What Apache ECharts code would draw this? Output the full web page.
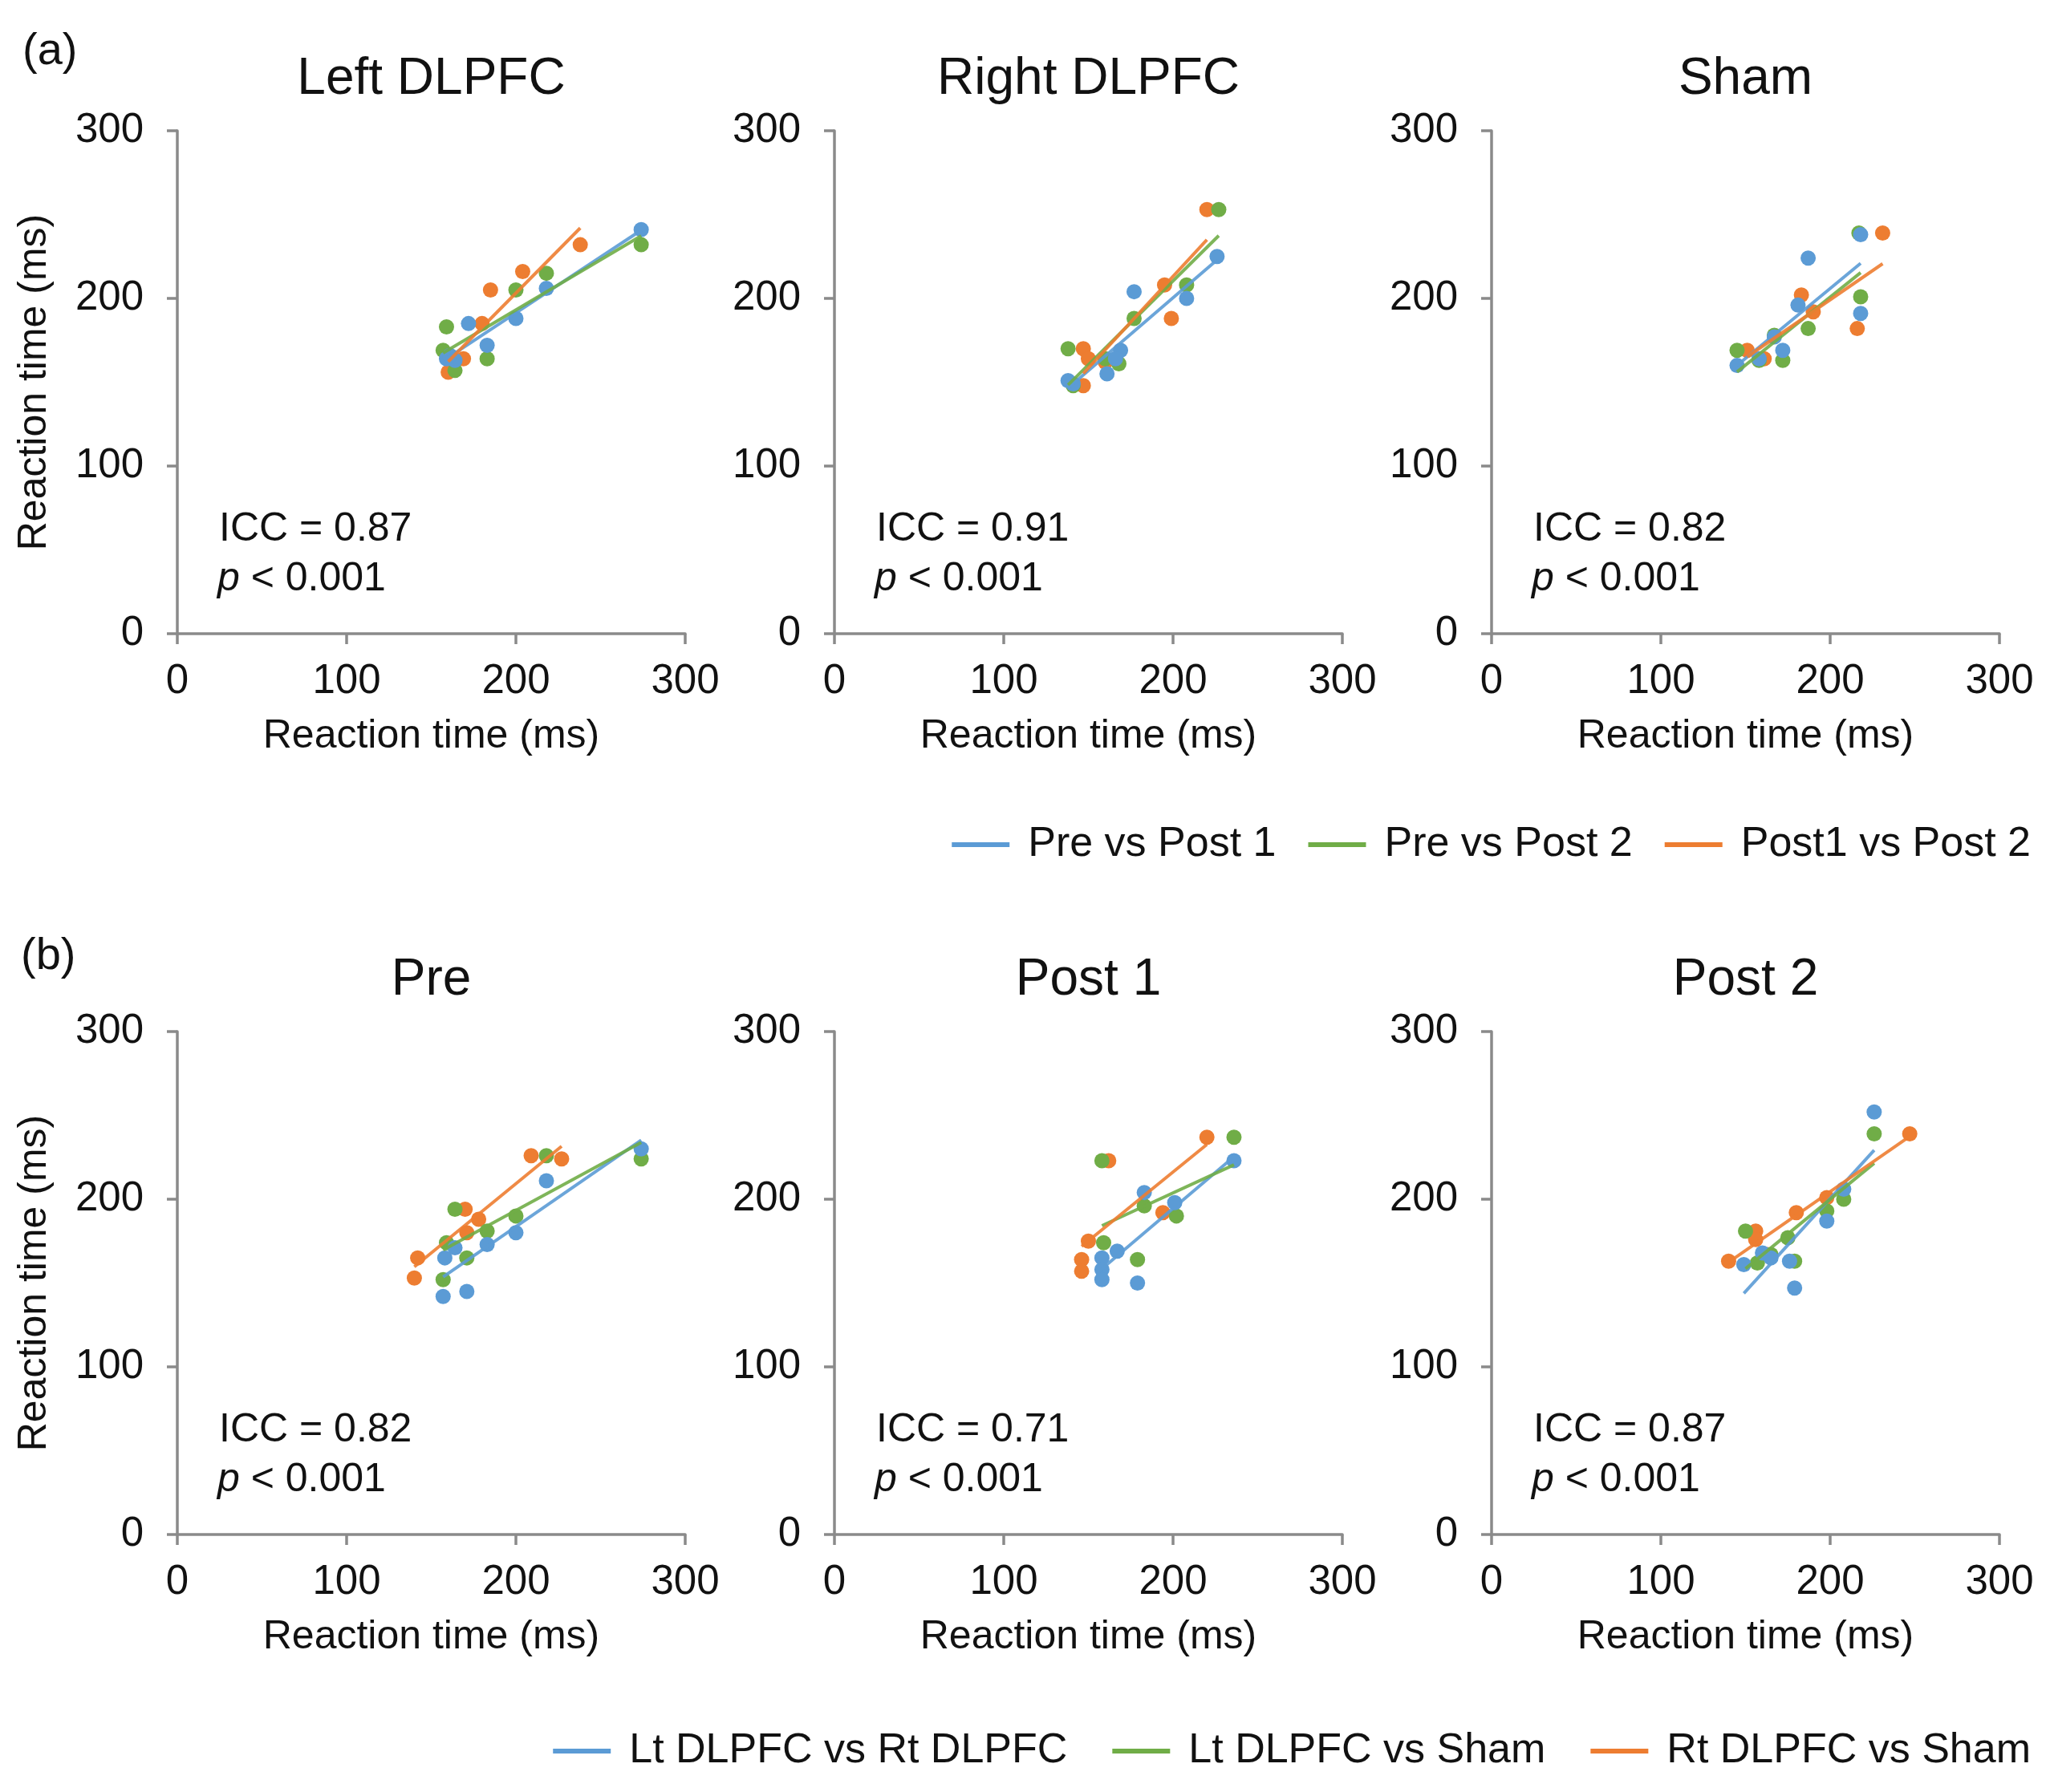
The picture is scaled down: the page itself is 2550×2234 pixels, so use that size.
<!DOCTYPE html>
<html><head><meta charset="utf-8">
<script src="https://cdn.jsdelivr.net/npm/echarts@6/dist/echarts.min.js"></script>
<style>html,body{margin:0;padding:0;background:#fff}#c{width:2550px;height:2234px}</style>
</head><body><div id="c"></div>
<script>
// ---------- DATA ----------
const axisTicks = [0, 100, 200, 300];
const axisName = 'Reaction time (ms)';

const legendA = ['Pre vs Post 1', 'Pre vs Post 2', 'Post1 vs Post 2'];
const legendB = ['Lt DLPFC vs Rt DLPFC', 'Lt DLPFC vs Sham', 'Rt DLPFC vs Sham'];

const titlesA = ['Left DLPFC', 'Right DLPFC', 'Sham'];
const titlesB = ['Pre', 'Post 1', 'Post 2'];
const iccA = ['0.87', '0.91', '0.82'];
const iccB = ['0.82', '0.71', '0.87'];
const pText = '< 0.001';

// (a) Left DLPFC
const leftPrePost1   = [[274,241],[218,206],[200,188],[172,185],[183,172],[159,164],[164,163],[161,166]];
const leftPrePost2   = [[274,232],[218,215],[200,205],[159,183],[183,164],[157,169],[164,157]];
const leftPost1Post2 = [[238,232],[204,216],[185,205],[180,185],[169,164],[160,156],[163,161]];
// (a) Right DLPFC
const rightPrePost1   = [[226,225],[177,204],[208,200],[169,169],[166,164],[161,155],[141,149],[138,151]];
const rightPrePost2   = [[227,253],[208,208],[177,188],[138,170],[160,164],[168,161],[141,148]];
const rightPost1Post2 = [[220,253],[195,208],[199,188],[147,170],[150,164],[147,148],[160,162]];
// (a) Sham
const shamPrePost1   = [[218,238],[187,224],[181,196],[218,191],[167,177],[172,169],[158,164],[145,160]];
const shamPrePost2   = [[217,239],[218,201],[187,182],[167,178],[145,169],[172,163],[158,163]];
const shamPost1Post2 = [[231,239],[183,202],[190,192],[216,182],[151,169],[161,164]];
// (b) Pre
const preLtRt   = [[274,230],[218,211],[200,180],[183,173],[164,171],[158,165],[157,142],[171,145]];
const preLtSham = [[274,224],[218,226],[164,194],[200,190],[183,181],[159,174],[171,165],[157,152]];
const preRtSham = [[209,226],[227,224],[170,194],[178,188],[171,180],[142,165],[140,153]];
// (b) Post 1
const post1LtRt   = [[236,223],[183,204],[201,198],[167,169],[158,165],[158,158],[158,152],[179,150]];
const post1LtSham = [[236,237],[158,223],[183,196],[202,190],[159,174],[179,164]];
const post1RtSham = [[220,237],[162,223],[194,192],[150,175],[146,164],[146,157]];
// (b) Post 2
const post2LtRt   = [[226,252],[208,206],[198,187],[160,168],[149,161],[176,163],[179,147],[165,165]];
const post2LtSham = [[226,239],[208,200],[198,193],[150,181],[175,177],[157,162],[179,163],[165,167]];
const post2RtSham = [[247,239],[198,201],[180,192],[156,181],[156,176],[140,163],[163,167]];

// ---------- CHART ----------
const FONT = '"Liberation Sans", Arial, Helvetica, sans-serif';
const COLORS = ['#5B9BD5', '#70AD47', '#ED7D31'];
const TXT = '#111';

const panels = [
  {row:0, col:0, title:titlesA[0], icc:iccA[0], names:legendA, data:[leftPrePost1, leftPrePost2, leftPost1Post2]},
  {row:0, col:1, title:titlesA[1], icc:iccA[1], names:legendA, data:[rightPrePost1, rightPrePost2, rightPost1Post2]},
  {row:0, col:2, title:titlesA[2], icc:iccA[2], names:legendA, data:[shamPrePost1, shamPrePost2, shamPost1Post2]},
  {row:1, col:0, title:titlesB[0], icc:iccB[0], names:legendB, data:[preLtRt, preLtSham, preRtSham]},
  {row:1, col:1, title:titlesB[1], icc:iccB[1], names:legendB, data:[post1LtRt, post1LtSham, post1RtSham]},
  {row:1, col:2, title:titlesB[2], icc:iccB[2], names:legendB, data:[post2LtRt, post2LtSham, post2RtSham]}
];

const gridLeft = [221, 1040, 1859];
const gridTop = [163, 1286];
const gridW = 633, gridH = 627;

function linFit(pts) {
  const n = pts.length;
  let sx = 0, sy = 0;
  pts.forEach(p => { sx += p[0]; sy += p[1]; });
  const mx = sx / n, my = sy / n;
  let sxy = 0, sxx = 0;
  pts.forEach(p => { sxy += (p[0]-mx)*(p[1]-my); sxx += (p[0]-mx)*(p[0]-mx); });
  const b = sxy / sxx, a = my - b * mx;
  const xs = pts.map(p => p[0]);
  const x0 = Math.min.apply(null, xs), x1 = Math.max.apply(null, xs);
  return [[x0, a + b*x0], [x1, a + b*x1]];
}

const grids = [], xAxes = [], yAxes = [], series = [], graphics = [];
const axisColor = '#8a8a8a';

panels.forEach((p, i) => {
  const L = gridLeft[p.col], T = gridTop[p.row];
  grids.push({left: L, top: T, width: gridW, height: gridH, containLabel: false});
  const common = {
    min: axisTicks[0], max: axisTicks[axisTicks.length-1], interval: axisTicks[1]-axisTicks[0],
    gridIndex: i,
    axisLine: {show: true, lineStyle: {color: axisColor, width: 3.5}},
    axisTick: {show: true, inside: false, length: 13, lineStyle: {color: axisColor, width: 3.5}},
    splitLine: {show: false},
    axisLabel: {fontSize: 51, fontFamily: FONT, color: TXT},
    nameTextStyle: {fontSize: 50, fontFamily: FONT, color: TXT}
  };
  xAxes.push(Object.assign({}, common, {
    type: 'value', name: axisName, nameLocation: 'middle', nameGap: 103,
    axisLabel: Object.assign({}, common.axisLabel, {margin: 34})
  }));
  yAxes.push(Object.assign({}, common, {
    type: 'value', name: p.col === 0 ? axisName : '', nameLocation: 'middle', nameGap: 153,
    axisLabel: Object.assign({}, common.axisLabel, {margin: 42})
  }));
  // scatter: orange, green, blue (blue on top)
  [2, 1, 0].forEach(k => {
    series.push({
      type: 'scatter', name: p.names[k], xAxisIndex: i, yAxisIndex: i,
      data: p.data[k], symbol: 'circle', symbolSize: 19,
      itemStyle: {color: COLORS[k], opacity: 1}, z: 2, silent: true
    });
  });
  [0, 1, 2].forEach(k => {
    series.push({
      type: 'line', name: p.names[k], xAxisIndex: i, yAxisIndex: i,
      data: linFit(p.data[k]), showSymbol: false, symbol: 'none',
      lineStyle: {color: COLORS[k], width: 4, opacity: 0.9},
      itemStyle: {color: COLORS[k]}, z: 3, silent: true, animation: false
    });
  });
  // title
  graphics.push({type: 'text', x: L + gridW/2, y: T - 64,
    style: {text: p.title, fontSize: 64, fontFamily: FONT, fill: TXT, align: 'center', verticalAlign: 'middle'}});
  // ICC text
  graphics.push({type: 'text', x: L + 52, y: T + 497,
    style: {text: 'ICC = ' + p.icc, fontSize: 50, fontFamily: FONT, fill: TXT, align: 'left', verticalAlign: 'middle'}});
  graphics.push({type: 'text', x: L + 50, y: T + 559,
    style: {text: '{i|p} ' + pText, fontSize: 50, fontFamily: FONT, fill: TXT, align: 'left', verticalAlign: 'middle',
      rich: {i: {fontStyle: 'italic', fontSize: 50, fontFamily: FONT, fill: TXT}}}});
});

graphics.push({type: 'text', x: 28, y: 65,
  style: {text: '(a)', fontSize: 56, fontFamily: FONT, fill: TXT, align: 'left', verticalAlign: 'middle'}});
graphics.push({type: 'text', x: 26, y: 1193,
  style: {text: '(b)', fontSize: 56, fontFamily: FONT, fill: TXT, align: 'left', verticalAlign: 'middle'}});

const legendCommon = {
  orient: 'horizontal', right: 14, itemWidth: 72, itemHeight: 6, icon: 'rect',
  textStyle: {fontSize: 52, fontFamily: FONT, color: TXT, padding: [0, 0, 0, 18]},
  selectedMode: false
};

const option = {
  backgroundColor: '#fff',
  animation: false,
  grid: grids,
  xAxis: xAxes,
  yAxis: yAxes,
  series: series,
  legend: [
    Object.assign({}, legendCommon, {top: 1022, itemGap: 40, data: legendA.map(n => ({name: n, icon: 'rect'}))}),
    Object.assign({}, legendCommon, {top: 2152, itemGap: 56, data: legendB.map(n => ({name: n, icon: 'rect'}))})
  ],
  graphic: graphics
};

const chart = echarts.init(document.getElementById('c'));
chart.setOption(option);
</script></body></html>
